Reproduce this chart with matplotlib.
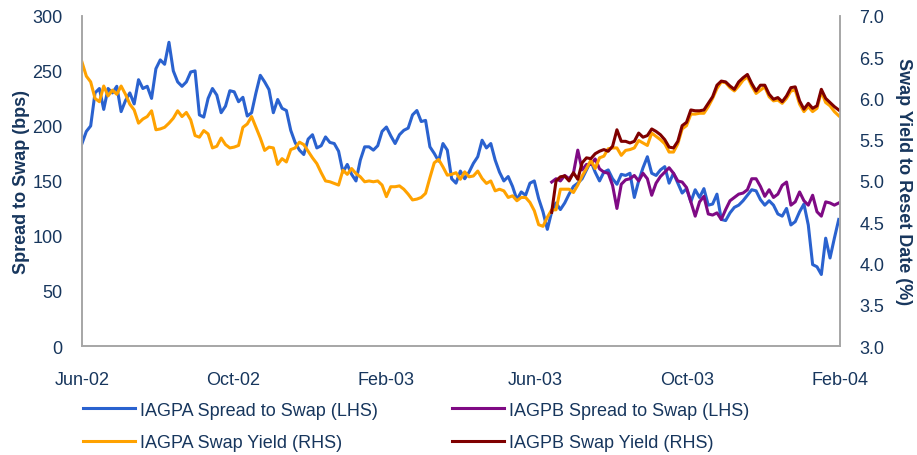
import numpy as np
import pandas as pd
import matplotlib
matplotlib.use("Agg")
import matplotlib.pyplot as plt
import matplotlib.dates as mdates

plt.rcParams["font.family"] = ["Liberation Sans", "DejaVu Sans"]

# twice-weekly observations from Jun-02
dates = pd.date_range("2002-06-01", periods=175, freq="84h")

iagpa_spread = [
    184, 195, 200, 230, 234, 215, 234, 230, 236, 213,
    223, 230, 220, 242, 234, 236, 225, 252, 260, 256,
    276, 250, 240, 236, 240, 249, 250, 210, 208, 225,
    234, 228, 212, 218, 232, 231, 222, 226, 209, 212,
    230, 246, 240, 233, 212, 224, 216, 214, 196, 185,
    178, 174, 188, 192, 180, 182, 190, 185, 184, 177,
    158, 165, 156, 150, 169, 181, 181, 178, 182, 195,
    199, 191, 184, 192, 196, 198, 210, 214, 204, 205,
    181, 175, 168, 184, 178, 152, 148, 159, 152, 158,
    166, 172, 187, 180, 184, 169, 158, 150, 154, 145,
    133, 140, 137, 148, 150, 134, 122, 106, 122, 130,
    124, 130, 138, 145, 148, 152, 160, 168, 158, 150,
    158, 160, 152, 147, 156, 155, 157, 135, 150, 162,
    172, 157, 155, 160, 163, 148, 157, 148, 139, 143,
    131, 142, 135, 143, 128, 129, 138, 115, 114, 121,
    126, 128, 132, 137, 142, 141, 133, 128, 132, 128,
    120, 118, 125, 110, 113, 122, 129, 110, 74, 72,
    65, 98, 80, 98, 115,
]

iagpa_yield = [
    6.44, 6.27, 6.20, 6.00, 5.96, 6.15, 6.03, 6.10, 6.05, 6.15,
    6.05, 5.93, 5.86, 5.70, 5.75, 5.78, 5.85, 5.62, 5.63, 5.65,
    5.70, 5.76, 5.85, 5.78, 5.83, 5.74, 5.55, 5.53, 5.61, 5.57,
    5.40, 5.42, 5.52, 5.44, 5.40, 5.41, 5.43, 5.65, 5.69, 5.78,
    5.65, 5.52, 5.37, 5.41, 5.40, 5.20, 5.27, 5.23, 5.38, 5.40,
    5.47, 5.44, 5.36, 5.28, 5.21, 5.10, 5.00, 4.99, 4.97, 4.95,
    5.13, 5.08, 5.15, 5.09, 5.05, 4.99, 5.00, 4.99, 5.00, 4.95,
    4.81, 4.93, 4.93, 4.94, 4.90, 4.84, 4.77, 4.78, 4.80, 4.85,
    5.04, 5.22, 5.26, 5.17, 5.07, 5.08, 5.10, 5.02, 5.11, 5.05,
    5.06, 5.12, 5.03, 4.97, 5.00, 4.88, 4.90, 4.88, 4.80, 4.82,
    4.76, 4.80, 4.80, 4.74, 4.64, 4.47, 4.45, 4.56, 4.65, 4.65,
    4.90, 4.90, 4.90, 4.86, 4.95, 5.06, 5.15, 5.25, 5.15, 5.28,
    5.30, 5.39, 5.40, 5.40, 5.31, 5.37, 5.38, 5.40, 5.49, 5.46,
    5.43, 5.58, 5.54, 5.50, 5.45, 5.35, 5.35, 5.45, 5.63, 5.67,
    5.81, 5.81, 5.82, 5.82, 5.90, 6.00, 6.12, 6.20, 6.19, 6.13,
    6.09, 6.15, 6.22, 6.26, 6.15, 6.06, 6.10, 6.14, 6.02, 5.97,
    5.98, 5.94, 6.00, 6.09, 6.10, 5.93, 5.84, 5.90, 5.84, 5.88,
    6.08, 5.95, 5.91, 5.84, 5.79,
]

# IAGPB series start in Jun-03 (observation 108 onwards)
iagpb_start = 108

iagpb_spread = [
    149, 152, 150, 155, 152, 157, 178, 160, 165, 165,
    170, 161, 158, 157, 146, 125, 147, 151, 152, 155,
    150, 157, 152, 137, 148, 154, 158, 162, 157, 150,
    149, 144, 131, 118, 131, 136, 120, 119, 121, 115,
    124, 132, 135, 138, 139, 142, 152, 152, 145, 136,
    142, 135, 138, 146, 149, 128, 131, 140, 132, 128,
    137, 122, 118, 131, 130, 128, 130,
]

iagpb_yield = [
    4.62, 5.00, 5.05, 5.06, 5.00, 5.10, 5.02, 5.22, 5.28, 5.27,
    5.33, 5.36, 5.38, 5.36, 5.42, 5.62, 5.48, 5.48, 5.46, 5.48,
    5.58, 5.53, 5.55, 5.63, 5.60, 5.56, 5.50, 5.41, 5.40, 5.48,
    5.67, 5.71, 5.86, 5.85, 5.85, 5.86, 5.94, 6.02, 6.16, 6.21,
    6.20, 6.15, 6.11, 6.20, 6.25, 6.29, 6.18, 6.09, 6.16, 6.16,
    6.05, 5.99, 6.01, 5.96, 6.03, 6.13, 6.14, 5.97, 5.87, 5.94,
    5.88, 5.91, 6.11, 6.00, 5.95, 5.90, 5.86,
]

navy = "#17365D"
blue = "#2A62CF"
orange = "#FFA200"
purple = "#7F0A84"
maroon = "#7F0000"
fs = 13

fig = plt.figure(figsize=(9.17, 4.56), dpi=100)
ax = fig.add_axes([0.0894, 0.239, 0.8266, 0.724])
ax2 = ax.twinx()

dates_b = dates[iagpb_start:]
l1, = ax.plot(dates, iagpa_spread, color=blue, lw=2.2, label="IAGPA Spread to Swap (LHS)")
l3, = ax.plot(dates_b, iagpb_spread, color=purple, lw=2.2, label="IAGPB Spread to Swap (LHS)")
l2, = ax2.plot(dates, iagpa_yield, color=orange, lw=2.2, label="IAGPA Swap Yield (RHS)")
l4, = ax2.plot(dates_b, iagpb_yield, color=maroon, lw=2.2, label="IAGPB Swap Yield (RHS)")

ax.set_ylim(0, 300)
ax.set_yticks(np.arange(0, 301, 50))
ax2.set_ylim(3.0, 7.0)
ax2.set_yticks(np.arange(3.0, 7.01, 0.5))
ax2.yaxis.set_major_formatter(matplotlib.ticker.FormatStrFormatter("%.1f"))

ax.set_xlim(pd.Timestamp("2002-06-01"), pd.Timestamp("2004-02-01"))
ax.set_xticks(pd.to_datetime(["2002-06-01", "2002-10-01", "2003-02-01",
                              "2003-06-01", "2003-10-01", "2004-02-01"]))
ax.xaxis.set_major_formatter(mdates.DateFormatter("%b-%y"))

for a in (ax, ax2):
    a.tick_params(length=0, labelsize=fs, colors=navy)
    a.spines["top"].set_visible(False)
    for s in ("left", "right", "bottom"):
        a.spines[s].set_color("#A6A6A6")
        a.spines[s].set_linewidth(1.2)
ax.tick_params(axis="x", pad=18)
ax.tick_params(axis="y", pad=14)
ax2.tick_params(axis="y", pad=14)

ax.set_ylabel("Spread to Swap (bps)", fontsize=fs, fontweight="bold", color=navy, labelpad=2)
ax2.set_ylabel("Swap Yield to Reset Date (%)", fontsize=fs, fontweight="bold", color=navy,
               rotation=270, labelpad=20)

fig.legend([l1, l2, l3, l4], [l.get_label() for l in (l1, l2, l3, l4)],
           ncol=2, loc="upper left", bbox_to_anchor=(0.0905, 0.117), frameon=False,
           borderpad=0, borderaxespad=0,
           fontsize=fs, handlelength=2.9, handletextpad=0.25, columnspacing=4.1,
           labelspacing=0.85, labelcolor=navy)

fig.savefig("out.png", dpi=100)
